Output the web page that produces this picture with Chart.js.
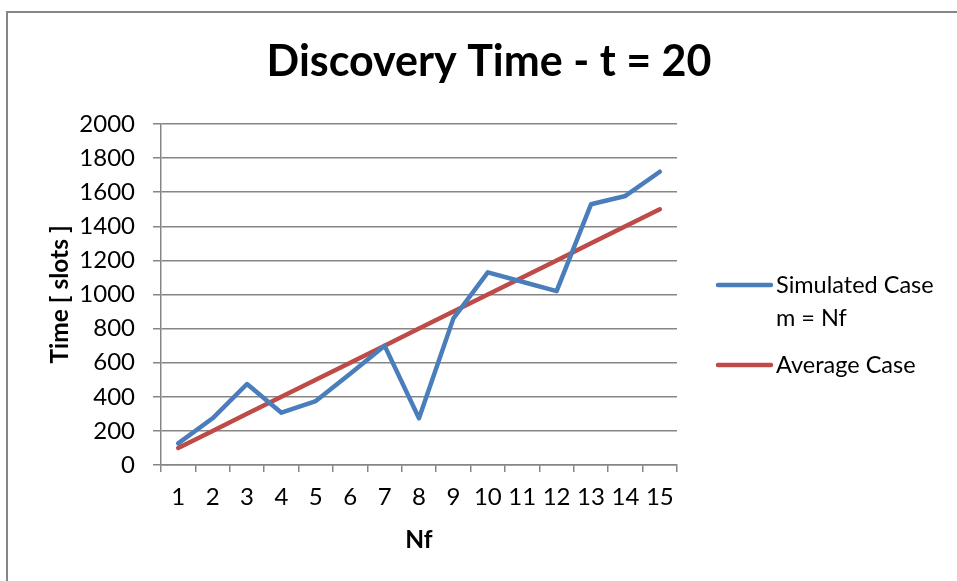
<!DOCTYPE html>
<html>
<head>
<meta charset="utf-8">
<title>Discovery Time</title>
<script src="https://cdn.jsdelivr.net/npm/chart.js@4.4.1/dist/chart.umd.min.js"></script>
<style>
  html, body { margin: 0; padding: 0; background: #ffffff; }
  #chart { display: block; }
</style>
</head>
<body>
<canvas id="chart" width="957" height="581"></canvas>
<script>
const nfLabels = ['1', '2', '3', '4', '5', '6', '7', '8', '9', '10', '11', '12', '13', '14', '15'];
const simulatedCase = [127, 274, 475, 307, 375, 535, 700, 274, 860, 1130, 1075, 1020, 1529, 1578, 1720];
const averageCase = [100, 200, 300, 400, 500, 600, 700, 800, 900, 1000, 1100, 1200, 1300, 1400, 1500];
const seriesNames = [['Simulated Case', 'm = Nf'], ['Average Case']];
const chartTitle = 'Discovery Time - t = 20';

const FONT = 'Lato, "Open Sans", sans-serif';
const gridGray = '#868686';

// frame, title and legend are painted by hand
const decorations = {
    id: 'decorations',
    beforeDraw(chart) {
        const ctx = chart.ctx;
        ctx.save();
        ctx.fillStyle = '#ffffff';
        ctx.fillRect(0, 0, chart.width, chart.height);
        ctx.strokeStyle = gridGray;
        ctx.lineWidth = 2;
        ctx.strokeRect(7, 12, chart.width + 20, chart.height + 20);
        ctx.restore();
    },
    afterDraw(chart) {
        const ctx = chart.ctx;
        ctx.save();
        ctx.fillStyle = '#000000';
        ctx.textAlign = 'center';
        ctx.textBaseline = 'middle';
        ctx.font = 'bold 43px ' + FONT;
        ctx.fillText(chartTitle, 489, 62);

        const legendY = [285, 365];
        ctx.font = '23.5px ' + FONT;
        ctx.textAlign = 'left';
        chart.data.datasets.forEach((ds, i) => {
            const y = legendY[i];
            ctx.strokeStyle = ds.borderColor;
            ctx.lineWidth = 4.5;
            ctx.lineCap = 'round';
            ctx.beginPath();
            ctx.moveTo(718, y);
            ctx.lineTo(771, y);
            ctx.stroke();
            seriesNames[i].forEach((line, j) => {
                ctx.fillText(line, 776, y + j * 33);
            });
        });
        ctx.restore();
    }
};

new Chart(document.getElementById('chart').getContext('2d'), {
    type: 'line',
    data: {
        labels: nfLabels,
        datasets: [
            {
                label: seriesNames[0].join(' '),
                data: simulatedCase,
                borderColor: '#4A7EBB',
                borderWidth: 4.5,
                borderCapStyle: 'round',
                borderJoinStyle: 'round',
                pointRadius: 0,
                tension: 0
            },
            {
                label: seriesNames[1].join(' '),
                data: averageCase,
                borderColor: '#BE4B48',
                borderWidth: 4.5,
                borderCapStyle: 'round',
                borderJoinStyle: 'round',
                pointRadius: 0,
                tension: 0
            }
        ]
    },
    options: {
        responsive: false,
        animation: false,
        layout: { padding: { top: 124, left: 0, right: 280, bottom: 0 } },
        plugins: {
            legend: { display: false },
            title: { display: false },
            tooltip: { enabled: false }
        },
        scales: {
            x: {
                offset: true,
                afterFit: (scale) => { scale.height = 116; },
                grid: {
                    offset: true,
                    drawOnChartArea: false,
                    tickLength: 7,
                    color: gridGray,
                    lineWidth: 1.5
                },
                border: { color: gridGray, width: 1.5 },
                ticks: {
                    color: '#000000',
                    padding: 11,
                    maxRotation: 0,
                    autoSkip: false,
                    font: { family: FONT, size: 24 }
                },
                title: {
                    display: true,
                    text: 'Nf',
                    color: '#000000',
                    padding: { top: 0, bottom: 26.6 },
                    font: { family: FONT, size: 24.5, weight: 'bold' }
                }
            },
            y: {
                min: 0,
                max: 2000,
                afterFit: (scale) => { scale.width = 161; },
                grid: {
                    tickLength: 8,
                    color: gridGray,
                    lineWidth: 1.5
                },
                border: { color: gridGray, width: 1.5 },
                ticks: {
                    stepSize: 200,
                    color: '#000000',
                    padding: 18,
                    callback: (value) => String(value),
                    font: { family: FONT, size: 24 }
                },
                title: {
                    display: true,
                    text: 'Time [ slots ]',
                    color: '#000000',
                    padding: { top: 45.6, bottom: 0 },
                    font: { family: FONT, size: 24.5, weight: 'bold' }
                }
            }
        }
    },
    plugins: [decorations]
});
</script>
</body>
</html>
